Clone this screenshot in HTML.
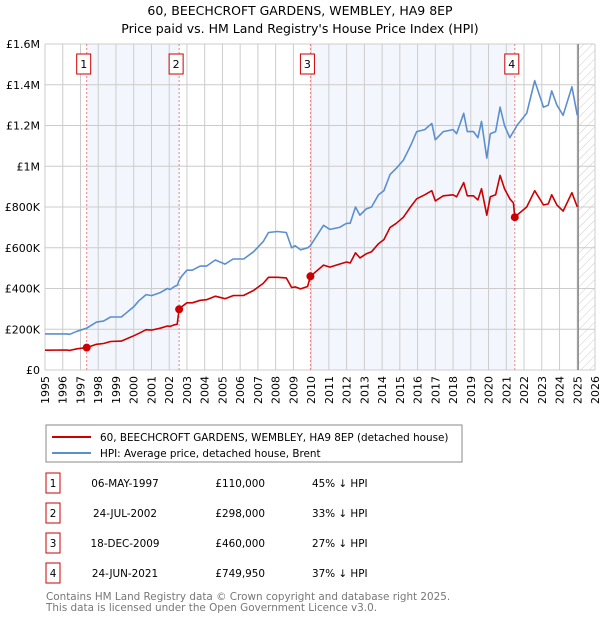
<!DOCTYPE html>
<html><head><meta charset="utf-8"><style>
body{margin:0;background:#fff;font-family:"DejaVu Sans","Liberation Sans",sans-serif;}
svg text{font-family:"DejaVu Sans","Liberation Sans",sans-serif;}
</style></head><body>
<svg id="chart" width="600" height="620" viewBox="0 0 600 620">
<defs><pattern id="hatch" width="6" height="6" patternUnits="userSpaceOnUse" patternTransform="rotate(45)"><line x1="0" y1="0" x2="0" y2="6" stroke="#ccc" stroke-width="1"/></pattern></defs>
<text x="300" y="15" text-anchor="middle" font-size="12.5">60, BEECHCROFT GARDENS, WEMBLEY, HA9 8EP</text>
<text x="300" y="33" text-anchor="middle" font-size="12.5">Price paid vs. HM Land Registry's House Price Index (HPI)</text>
<g id="plot"></g>
<g>
<rect x="46" y="425" width="416" height="37" fill="#fff" stroke="#888"/>
<line x1="52" y1="437" x2="91" y2="437" stroke="#cc0000" stroke-width="2"/>
<text x="100" y="441" font-size="10.4">60, BEECHCROFT GARDENS, WEMBLEY, HA9 8EP (detached house)</text>
<line x1="52" y1="453" x2="91" y2="453" stroke="#5b8fd0" stroke-width="2"/>
<text x="100" y="457" font-size="10.4">HPI: Average price, detached house, Brent</text>
</g>
<g id="table" font-size="10.4"></g>
<text x="46" y="600" font-size="10.4" fill="#777">Contains HM Land Registry data © Crown copyright and database right 2025.</text>
<text x="46" y="611" font-size="10.4" fill="#777">This data is licensed under the Open Government Licence v3.0.</text>
</svg>
<script>
const hpiYears=[1995.0,1996.2,1996.4,1996.8,1997.35,1997.9,1998.3,1998.7,1999.3,2000.0,2000.3,2000.7,2001.0,2001.5,2001.9,2002.05,2002.3,2002.45,2002.56,2002.7,2003.0,2003.3,2003.75,2004.1,2004.6,2005.15,2005.6,2006.2,2006.75,2007.3,2007.6,2008.1,2008.6,2008.9,2009.1,2009.4,2009.8,2009.96,2010.7,2011.06,2011.6,2012.0,2012.2,2012.5,2012.75,2013.1,2013.4,2013.8,2014.1,2014.45,2014.8,2015.2,2015.6,2015.95,2016.4,2016.8,2017.0,2017.45,2018.0,2018.2,2018.6,2018.8,2019.15,2019.4,2019.6,2019.9,2020.1,2020.4,2020.65,2020.9,2021.2,2021.4,2021.48,2021.6,2022.15,2022.6,2023.1,2023.37,2023.56,2023.85,2024.2,2024.7,2025.0];
const hpiValues=[177,177,175,190,205,235,240,260,260,310,340,370,365,380,400,395,410,415,440,460,490,490,510,510,540,520,545,545,580,630,675,680,675,600,610,590,600,610,710,690,700,720,720,800,760,790,800,860,880,960,990,1030,1100,1170,1180,1210,1130,1170,1180,1160,1260,1170,1170,1140,1220,1040,1160,1170,1290,1200,1140,1170,1180,1200,1260,1420,1290,1300,1370,1300,1250,1390,1250];
const propValues=[97,98,96,104,110,126,130,140,142,168,180,198,196,205,216,214,222,225,298,310,330,330,342,345,362,350,365,366,390,425,455,455,452,405,408,398,410,460,515,505,520,530,525,575,550,570,580,620,640,700,720,750,800,840,860,880,830,855,860,850,920,855,855,835,890,760,850,860,955,890,840,820,750,760,800,880,810,815,860,810,780,870,800];
const saleYears=[1997.35,2002.56,2009.96,2021.48];
const salePrices=[110,298,460,749.95];
const saleLabels=["1","2","3","4"];
const saleDates=["06-MAY-1997","24-JUL-2002","18-DEC-2009","24-JUN-2021"];
const salePriceText=["£110,000","£298,000","£460,000","£749,950"];
const salePct=["45% ↓ HPI","33% ↓ HPI","27% ↓ HPI","37% ↓ HPI"];
const yTicks=[0,200,400,600,800,1000,1200,1400,1600];
const yTickLabels=["£0","£200K","£400K","£600K","£800K","£1M","£1.2M","£1.4M","£1.6M"];
const xTicks=[1995,1996,1997,1998,1999,2000,2001,2002,2003,2004,2005,2006,2007,2008,2009,2010,2011,2012,2013,2014,2015,2016,2017,2018,2019,2020,2021,2022,2023,2024,2025,2026];
const X0=45,X1=595,Y0=370,Y1=44;
const xs=y=>X0+(y-1995)/31*(X1-X0);
const ys=v=>Y0-v/1600*(Y0-Y1);
const NS="http://www.w3.org/2000/svg";
const plot=document.getElementById('plot');
function mk(tag,attrs,parent,text){const e=document.createElementNS(NS,tag);for(const k in attrs)e.setAttribute(k,attrs[k]);if(text!==undefined)e.textContent=text;(parent||plot).appendChild(e);return e;}
for(let i=0;i<4;i+=2){
 const r=mk('rect',{x:xs(saleYears[i]),y:Y1,width:xs(saleYears[i+1])-xs(saleYears[i]),height:Y0-Y1,fill:'#eef3fc',opacity:0.7});
 
 
}
const h=mk('rect',{x:xs(2025.05),y:Y1,width:X1-xs(2025.05),height:Y0-Y1,fill:'url(#hatch)'});


xTicks.forEach((t,i)=>{
 const l=mk('line',{x1:xs(t),x2:xs(t),y1:Y1,y2:Y0,stroke:'#ccc','stroke-width':1});
 
 
 const tx=mk('text',{x:0,y:0,'font-size':11,'text-anchor':'end',transform:`translate(${xs(t)+4},${376}) rotate(-90)`},plot,String(t));
 
 
});
yTicks.forEach((t,i)=>{
 const l=mk('line',{x1:X0,x2:X1,y1:ys(t),y2:ys(t),stroke:'#ccc','stroke-width':1});
 
 
 const tx=mk('text',{x:40,y:ys(t)+4,'font-size':11,'text-anchor':'end'},plot,yTickLabels[i]);
 
 
});
const vl=mk('line',{x1:xs(2025.05),x2:xs(2025.05),y1:Y1,y2:Y0,stroke:'#888','stroke-width':1.5});


saleYears.forEach((y,i)=>{
 const l=mk('line',{x1:xs(y),x2:xs(y),y1:Y1,y2:Y0,stroke:'#f08080','stroke-width':1,'stroke-dasharray':'2,2'});
 
 
});
function path(vals,color,name){
 const d=hpiYears.map((y,i)=>(i?'L':'M')+xs(y).toFixed(1)+','+ys(vals[i]).toFixed(1)).join('');
 const p=mk('path',{d:d,fill:'none',stroke:color,'stroke-width':1.6,'stroke-linejoin':'round'});
 
 
}
path(hpiValues,'#5b8fd0','hpi-line');
path(propValues,'#cc0000','property-line');
saleYears.forEach((y,i)=>{
 const c=mk('circle',{cx:xs(y),cy:ys(salePrices[i]),r:4,fill:'#cc0000'});
 
 
 const b=mk('rect',{x:xs(y)-10,y:54,width:14,height:20,fill:'#fff',stroke:'#cc0000','stroke-width':1});
 
 
 const t=mk('text',{x:xs(y)-3,y:68,'font-size':11,'text-anchor':'middle'},plot,saleLabels[i]);
 
 
});
const tb=document.getElementById('table');
const rowY=[483,513,543,573];
saleLabels.forEach((s,i)=>{
 const cy=rowY[i];
 const b=mk('rect',{x:46,y:cy-10,width:14,height:20,fill:'#fff',stroke:'#cc0000'},tb);
 
 
 const t1=mk('text',{x:53,y:cy+4,'text-anchor':'middle'},tb,s);
 
 
 const t2=mk('text',{x:125,y:cy+4,'text-anchor':'middle'},tb,saleDates[i]);
 
 
 const t3=mk('text',{x:265,y:cy+4,'text-anchor':'end'},tb,salePriceText[i]);
 
 
 const t4=mk('text',{x:312,y:cy+4},tb,salePct[i]);
 
 
});
</script>
</body></html>
